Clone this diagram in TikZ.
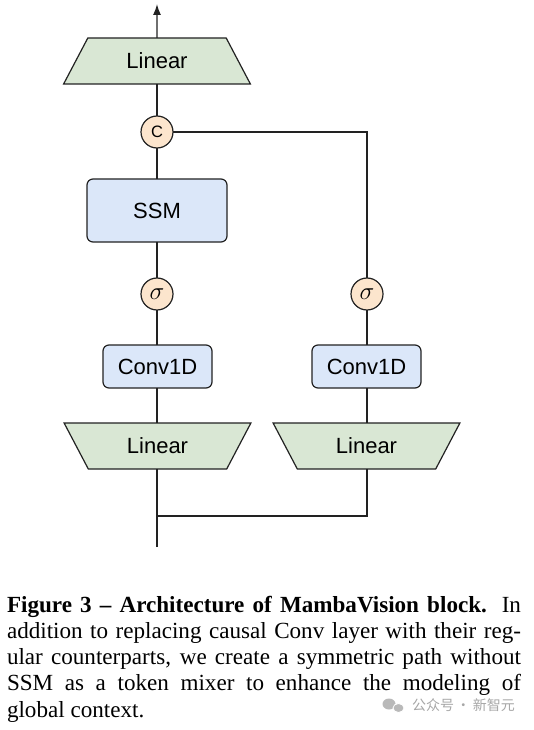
\documentclass[tikz,border=0pt]{standalone}
\usepackage{fontspec}
\setmainfont{Liberation Serif}
\newfontfamily\arialf{Liberation Sans}
\newfontfamily\cjkf{Noto Sans CJK SC}
\usetikzlibrary{shapes.geometric,arrows.meta}
\definecolor{lingreen}{HTML}{D9E7D4}
\definecolor{boxblue}{HTML}{DBE7F9}
\definecolor{circor}{HTML}{FCE5CD}
\definecolor{edgec}{HTML}{222222}
\begin{document}
\begin{tikzpicture}[x=1pt,y=-1pt,
  every node/.style={inner sep=0pt,outer sep=0pt},
  conn/.style={draw=edgec,line width=1.3pt},
  linblock/.style={trapezium,trapezium stretches=true,trapezium left angle=56.5,trapezium right angle=56.5,
    minimum width=187pt,minimum height=46pt,fill=lingreen,draw=edgec,line width=1.2pt,
    font=\arialf\fontsize{22}{24}\selectfont},
  linup/.style={linblock},
  lindown/.style={linblock,shape border rotate=180},
  bluebox/.style={rectangle,rounded corners=6pt,fill=boxblue,draw=edgec,line width=1.2pt,
    font=\arialf\fontsize{22}{24}\selectfont},
  opcirc/.style={circle,minimum size=32pt,fill=circor,draw=edgec,line width=1.2pt},
  capt/.style={anchor=base west,text width=514pt,align=justify,font=\fontsize{23.1}{26.25}\selectfont},
  wmark/.style={text=gray!70,font=\cjkf\fontsize{14}{16}\selectfont}
]
\useasboundingbox (0,0) rectangle (534,730);
% nodes
\node[linup] (lintop) at (157,61) {Linear};
\node[opcirc,font=\arialf\fontsize{16.5}{18}\selectfont] (cat) at (157,132) {C};
\node[bluebox,minimum width=140pt,minimum height=63pt] (ssm) at (157,210.5) {SSM};
\node[opcirc,font=\fontsize{25}{26}\selectfont] (sigL) at (157,294) {$\sigma$};
\node[bluebox,minimum width=109pt,minimum height=43pt] (convL) at (157.5,366.5) {Conv1D};
\node[opcirc,font=\fontsize{25}{26}\selectfont] (sigR) at (367,294) {$\sigma$};
\node[bluebox,minimum width=109pt,minimum height=43pt] (convR) at (366.5,366.5) {Conv1D};
\node[lindown] (linL) at (157.5,446) {Linear};
\node[lindown] (linR) at (366.5,446) {Linear};
\coordinate (outtop) at (157,4);
\coordinate (inbot) at (157,547);
\coordinate (join) at (157,516);
% connectors
\draw[conn,-{Latex[length=11pt,width=8pt]}] (lintop.north) -- (outtop);
\draw[conn] (cat) -- (lintop);
\draw[conn] (ssm) -- (cat);
\draw[conn] (sigL) -- (ssm);
\draw[conn] (convL.north -| sigL) -- (sigL);
\draw[conn] (linL.north -| sigL) -- (convL.south -| sigL);
\draw[conn] (inbot) -- (linL.south -| inbot);
\draw[conn] (cat.east) -| (sigR.north);
\draw[conn] (sigR) -- (convR.north -| sigR);
\draw[conn] (convR.south -| sigR) -- (linR.north -| sigR);
\draw[conn] (linR.south -| sigR) |- (join);
% caption
\node[capt] (caption) at (7,612) {\textbf{Figure 3 -- Architecture of MambaVision block.} In addition to replacing causal Conv layer with their reg-\linebreak ular counterparts, we create a symmetric path without\linebreak SSM as a token mixer to enhance the modeling of\linebreak global context.};
% watermark
\fill[gray!55] (389,704) ellipse (6.5pt and 5.5pt);
\fill[gray!55,draw=white,line width=0.8pt] (398.5,708) ellipse (5.5pt and 4.5pt);
\node[wmark] (wm) at (463.5,705) {公众号\,·\,新智元};
\end{tikzpicture}
\end{document}
